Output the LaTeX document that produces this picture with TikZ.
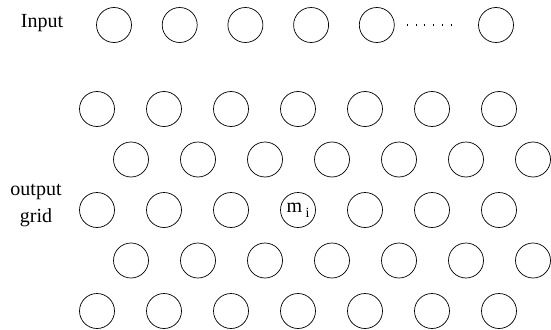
\documentclass[tikz,border=0pt]{standalone}
\usepackage{fontspec}
\setmainfont{Liberation Serif}
\usetikzlibrary{positioning}

\begin{document}
\begin{tikzpicture}[
        x=1pt, y=-1pt,
        node distance=1cm and 30pt,
        unit/.style={draw, circle, line width=0.7pt, minimum size=35pt, inner sep=0pt},
        tag/.style={font=\rmfamily\fontsize{20}{27}\selectfont, align=center, inner sep=0pt},
        dots/.style={line width=1.2pt, dash pattern=on 1pt off 7.67pt, shorten <=12.5pt, shorten >=19pt}
    ]
    \useasboundingbox (0,0) rectangle (551,329);

    % input layer
    \node[tag] (Input) at (42,23) {Input};
    \node[unit] (In1) at (114,25) {};
    \foreach \i [count=\j from 2] in {1,...,4}
        \node[unit, right=of In\i] (In\j) {};
    \node[unit] (InN) at (496,25) {};
    \draw[dots] (In5) -- (InN);

    % output grid
    \node[tag] (Output) at (36,206) {output\\grid};
    \foreach \r in {1,...,5}
        \foreach \c in {1,...,7} {
            \pgfmathsetmacro{\xs}{isodd(\r) ? 97 : 131}
            \node[unit] (G\r\c) at ({\xs+67*(\c-1)}, {109+50.5*(\r-1)}) {};
        }
    \node[tag] (Mi) at (G34) {m\,\raisebox{-5pt}{\fontsize{14}{14}\selectfont i}};
\end{tikzpicture}
\end{document}
